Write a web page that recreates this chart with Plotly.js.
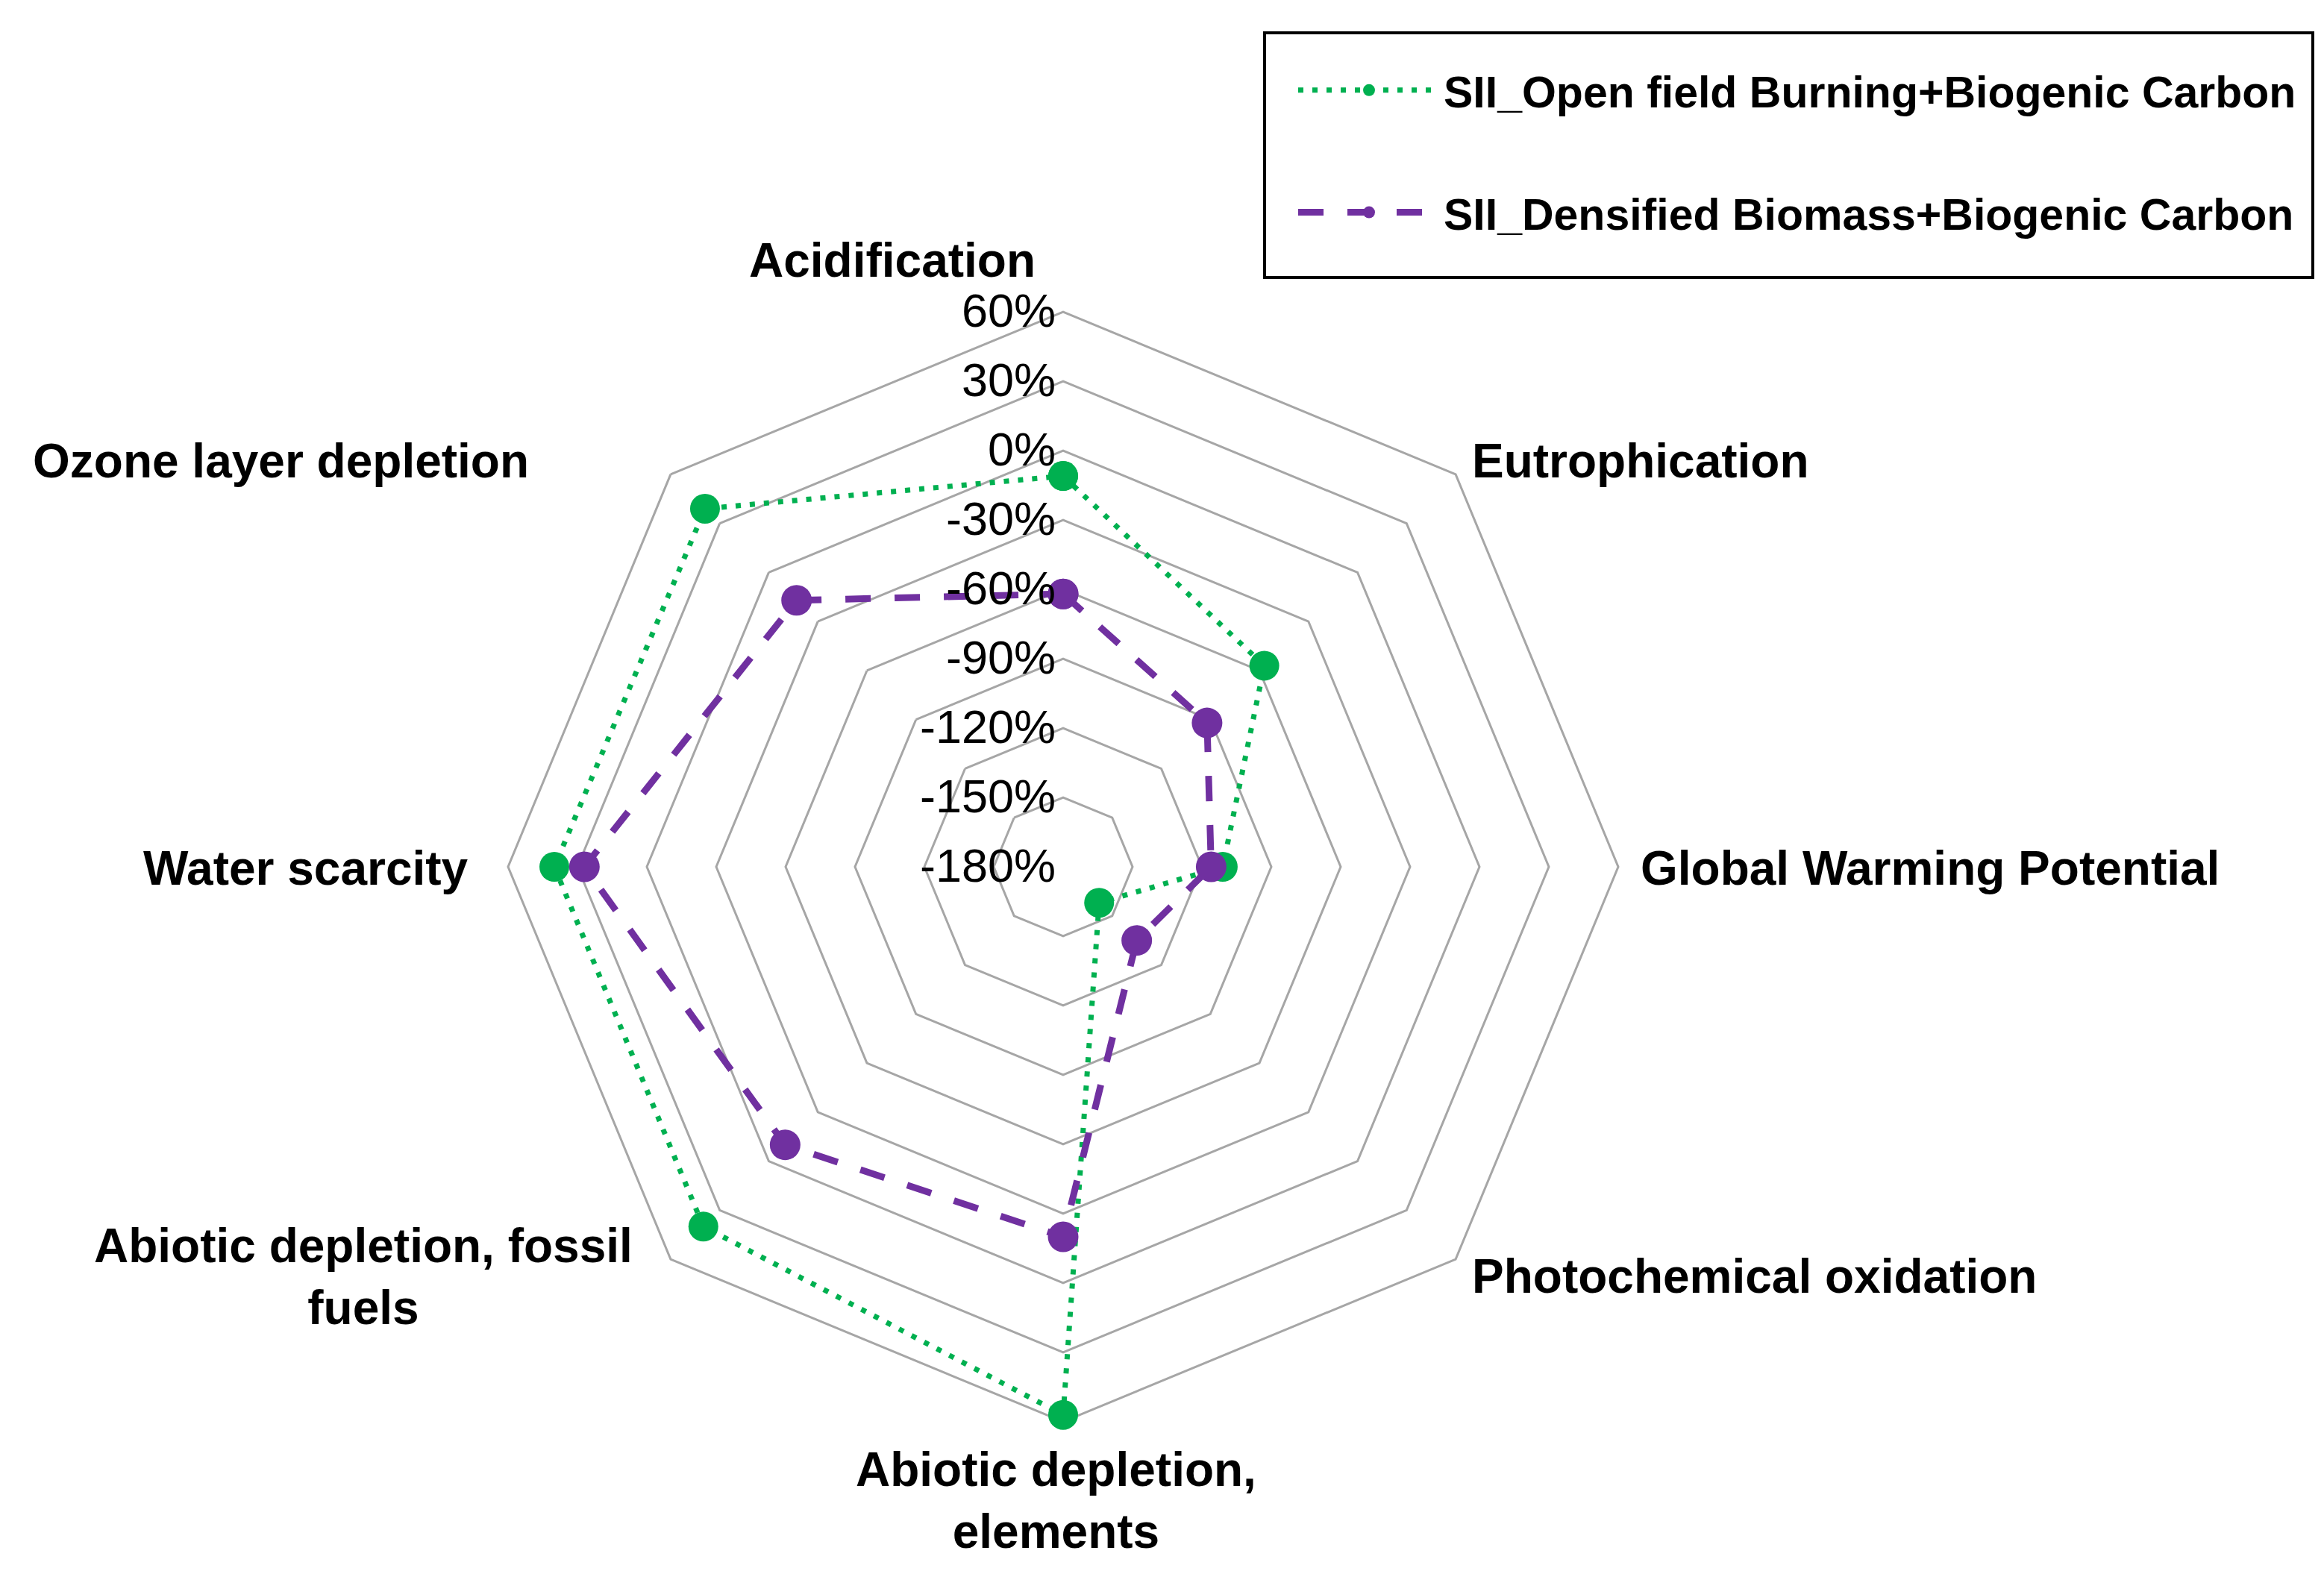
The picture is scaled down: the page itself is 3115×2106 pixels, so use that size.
<!DOCTYPE html>
<html>
<head>
<meta charset="utf-8">
<script src="https://cdn.plot.ly/plotly-3.0.1.min.js"></script>
<style>html,body{margin:0;padding:0;background:#fff;}#chart{width:3115px;height:2106px;}</style>
</head>
<body>
<div id="chart"></div>
<script>
// ---- data ----
const categories = [
  "Acidification",
  "Eutrophication",
  "Global Warming Potential",
  "Photochemical oxidation",
  "Abiotic depletion, elements",
  "Abiotic depletion, fossil fuels",
  "Water scarcity",
  "Ozone layer depletion"
];
const categoryLabels = [
  "Acidification",
  "Eutrophication",
  "Global Warming Potential",
  "Photochemical oxidation",
  "Abiotic depletion,<br>elements",
  "Abiotic depletion, fossil<br>fuels",
  "Water scarcity",
  "Ozone layer depletion"
];
const seriesNames = [
  "SII_Open field Burning+Biogenic Carbon",
  "SII_Densified Biomass+Biogenic Carbon"
];
const openFieldBurning = [-11, -57, -111, -158, 57, 40, 40, 39];
const densifiedBiomass = [-62, -92, -116, -135, -20, -10, 27, -17];
const radialTickValues = [-180, -150, -120, -90, -60, -30, 0, 30, 60];

// ---- layout helpers ----
const W = 3115, H = 2106;
const px = x => x / W;
const py = y => 1 - y / H;
const close = arr => arr.concat([arr[0]]);

const FONT = "Liberation Sans, Arial, sans-serif";

const traces = [
  {
    type: "scatterpolar",
    mode: "lines+markers",
    name: seriesNames[0],
    legendgroup: "g1",
    cliponaxis: true,
    r: close(openFieldBurning),
    theta: close(categories),
    line: {color: "#00B050", width: 7, dash: "7px,12px"},
    marker: {color: "#00B050", size: 40, symbol: "circle"}
  },
  {
    type: "scatterpolar",
    mode: "lines+markers",
    name: seriesNames[1],
    legendgroup: "g2",
    cliponaxis: true,
    r: close(densifiedBiomass),
    theta: close(categories),
    line: {color: "#7030A0", width: 9, dash: "34px,32px"},
    marker: {color: "#7030A0", size: 41, symbol: "circle"}
  }
];

// polar geometry: 60% ring has radius R60; axis runs a bit beyond so edge markers are not clipped
const rMin = -180, rTop = 60, rMax = 68;
const cx = 1425, cy = 1162, R60 = 744;
const R = R60 * (rMax - rMin) / (rTop - rMin);

const labelPos = [
  {x: 1196, y: 349, xa: "center"},
  {x: 1971, y: 618, xa: "left"},
  {x: 2197, y: 1164, xa: "left"},
  {x: 1971, y: 1711, xa: "left"},
  {x: 1415, y: 2011, xa: "center"},
  {x: 487, y: 1711, xa: "center"},
  {x: 630, y: 1164, xa: "right"},
  {x: 711, y: 618, xa: "right"}
];

const annotations = categoryLabels.map((t, i) => ({
  text: t,
  xref: "paper", yref: "paper",
  x: px(labelPos[i].x), y: py(labelPos[i].y),
  xanchor: labelPos[i].xa, yanchor: "middle",
  align: "center",
  showarrow: false,
  font: {family: FONT, size: 64, color: "#000", weight: "bold"}
}));

const layout = {
  width: W, height: H,
  margin: {l: 0, r: 0, t: 0, b: 0, pad: 0},
  paper_bgcolor: "#fff",
  font: {family: FONT, color: "#000"},
  showlegend: true,
  legend: {
    x: px(1735), y: py(76), xanchor: "left", yanchor: "top",
    bgcolor: "rgba(0,0,0,0)", borderwidth: 0,
    font: {family: FONT, size: 59, color: "#000", weight: "bold"},
    itemwidth: 190,
    tracegroupgap: 84,
    traceorder: "grouped"
  },
  shapes: [{
    type: "rect", xref: "paper", yref: "paper",
    x0: px(1695), x1: px(3100), y0: py(44), y1: py(372),
    line: {color: "#000", width: 4}, fillcolor: "rgba(0,0,0,0)"
  }],
  annotations: annotations,
  polar: {
    domain: {x: [px(cx - R), px(cx + R)], y: [py(cy + R), py(cy - R)]},
    gridshape: "linear",
    bgcolor: "rgba(0,0,0,0)",
    radialaxis: {
      range: [rMin, rMax],
      tickvals: radialTickValues,
      ticktext: radialTickValues.map(v => v + "%"),
      angle: 90,
      tickangle: 90,
      side: "counterclockwise",
      showline: false,
      ticks: "",
      showgrid: true,
      gridcolor: "#A6A6A6",
      gridwidth: 3,
      tickfont: {family: FONT, size: 63, color: "#000"}
    },
    angularaxis: {
      type: "category",
      categoryarray: categories,
      rotation: 90,
      direction: "clockwise",
      showgrid: false,
      showline: false,
      ticks: "",
      showticklabels: false
    }
  }
};

Plotly.newPlot("chart", traces, layout, {staticPlot: true});
</script>
</body>
</html>
